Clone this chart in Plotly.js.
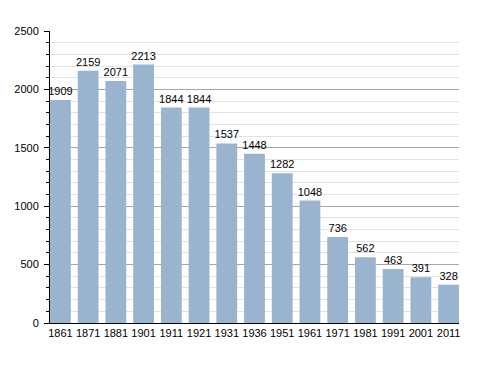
<!DOCTYPE html>
<html><head><meta charset="utf-8">
<script src="https://cdn.plot.ly/plotly-3.0.1.min.js"></script>
<style>html,body{margin:0;padding:0;background:#fff}</style>
</head><body><div id="chart" style="width:488px;height:373px"></div>
<script>
const years = ["1861","1871","1881","1901","1911","1921","1931","1936","1951","1961","1971","1981","1991","2001","2011"];
const population = [1909,2159,2071,2213,1844,1844,1537,1448,1282,1048,736,562,463,391,328];

const gap = 0.25;
Plotly.newPlot('chart', [{
  type: 'bar',
  x: years,
  y: population,
  text: population.map(String),
  textposition: 'outside',
  constraintext: 'none',
  cliponaxis: false,
  textfont: {family: 'Liberation Sans, Arial, sans-serif', size: 11, color: '#000'},
  marker: {color: '#9ab3cf', line: {width: 0}},
  hoverinfo: 'none'
}], {
  width: 488, height: 373,
  margin: {l: 50, r: 29, t: 31, b: 50},
  paper_bgcolor: '#fff', plot_bgcolor: '#fff',
  bargap: gap,
  showlegend: false,
  font: {family: 'Liberation Sans, Arial, sans-serif', size: 11, color: '#000'},
  xaxis: {
    type: 'category',
    range: [-(1 - gap) / 2, years.length - 1 + (1 - gap) / 2],
    showline: true, linecolor: '#000', linewidth: 1,
    ticks: '', showgrid: false,
    tickfont: {size: 11, color: '#000'}
  },
  yaxis: {
    range: [0, 2500], dtick: 500, tick0: 0,
    showline: true, linecolor: '#000', linewidth: 1,
    ticks: 'outside', ticklen: 5, tickcolor: '#000',
    ticklabelstandoff: 3,
    gridcolor: '#a6a6a6', gridwidth: 1,
    zeroline: false,
    tickfont: {size: 11, color: '#000'},
    minor: {dtick: 100, showgrid: true, gridcolor: '#e2e2e2', ticks: 'outside', ticklen: 3, tickcolor: '#000'}
  }
}, {displayModeBar: false, staticPlot: true});
</script></body></html>
